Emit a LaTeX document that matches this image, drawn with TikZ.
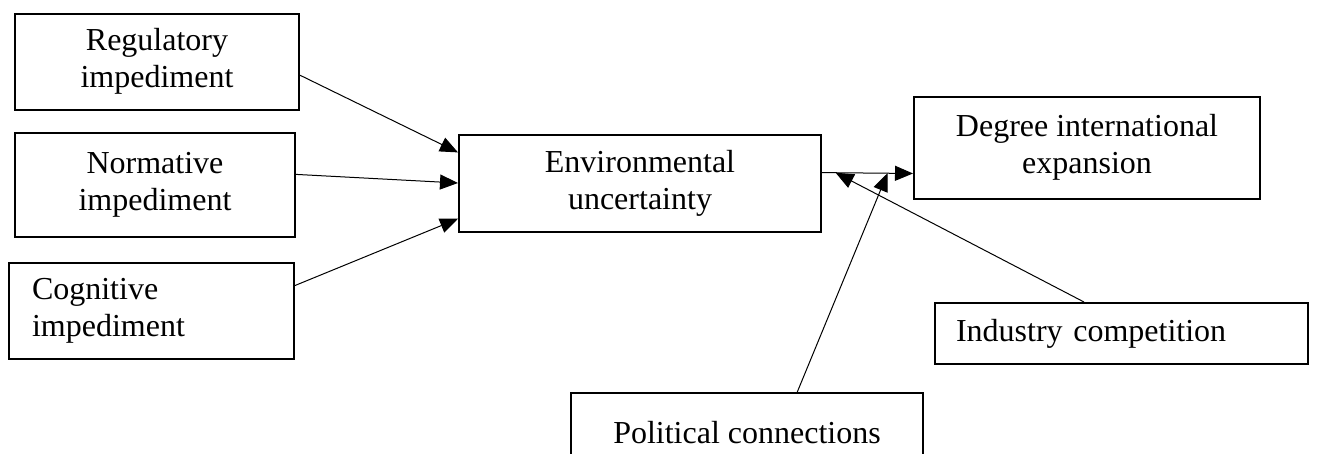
\documentclass[tikz,border=0pt]{standalone}
\usepackage{fontspec}
\setmainfont{Liberation Serif}
\usetikzlibrary{arrows.meta,calc}
\newcommand{\twol}[3][c]{\begin{tabular}{@{}#1@{}}#2\\#3\end{tabular}}
\begin{document}
\begin{tikzpicture}[x=1pt,y=-1pt,
  box/.style={draw,line width=2pt,inner sep=0pt,font=\fontsize{32}{37}\selectfont},
  conn/.style={line width=1pt,-{Triangle[length=18pt,width=15pt]}}]
\useasboundingbox (0,0) rectangle (1317,454);
\node[box,minimum width=284,minimum height=96] (reg) at (157,62) {\raisebox{-3pt}{\twol{Regulatory}{impediment}}};
\node[box,minimum width=280,minimum height=104] (nor) at (155,185) {\twol{Normative}{impediment}};
\node[box,minimum width=285,minimum height=96,inner xsep=23pt,text width=239pt,align=left] (cog) at (151.5,311) {\raisebox{-2pt}{\twol[l]{Cognitive}{impediment}}};
\node[box,minimum width=362,minimum height=97] (env) at (640,183.5) {\raisebox{-4pt}{\twol{Environmental}{uncertainty}}};
\node[box,minimum width=346,minimum height=102] (deg) at (1087,148) {\twol{Degree international}{expansion}};
\node[box,minimum width=373,minimum height=61,inner xsep=21pt,text width=331pt,align=left] (ind) at (1121.5,333.5) {\makebox[331pt][l]{Industry competition}};
\node[box,minimum width=352,minimum height=80] (pol) at (747,433) {Political connections};
% connector end points on borders
\coordinate (rS) at ($(reg.north east)!0.635!(reg.south east)$);
\coordinate (rT) at ($(env.north west)!0.186!(env.south west)$);
\coordinate (nS) at ($(nor.north east)!0.40!(nor.south east)$);
\coordinate (nT) at ($(env.north west)!0.495!(env.south west)$);
\coordinate (cS) at ($(cog.north east)!0.24!(cog.south east)$);
\coordinate (cT) at ($(env.north west)!0.856!(env.south west)$);
\coordinate (eS) at ($(env.north east)!0.39!(env.south east)$);
\coordinate (dT) at ($(deg.north west)!0.745!(deg.south west)$);
\coordinate (iS) at ($(ind.north west)!0.40!(ind.north east)$);
\coordinate (iT) at ($(eS)!0.15!(dT)$);
\coordinate (pS) at ($(pol.north west)!0.642!(pol.north east)$);
\coordinate (pT) at ($(eS)!0.72!(dT)$);
\draw[conn] (rS) -- (rT);
\draw[conn] (nS) -- (nT);
\draw[conn] (cS) -- (cT);
\draw[conn] (eS) -- (dT);
\draw[conn] (iS) -- (iT);
\draw[conn] (pS) -- (pT);
\end{tikzpicture}
\end{document}
